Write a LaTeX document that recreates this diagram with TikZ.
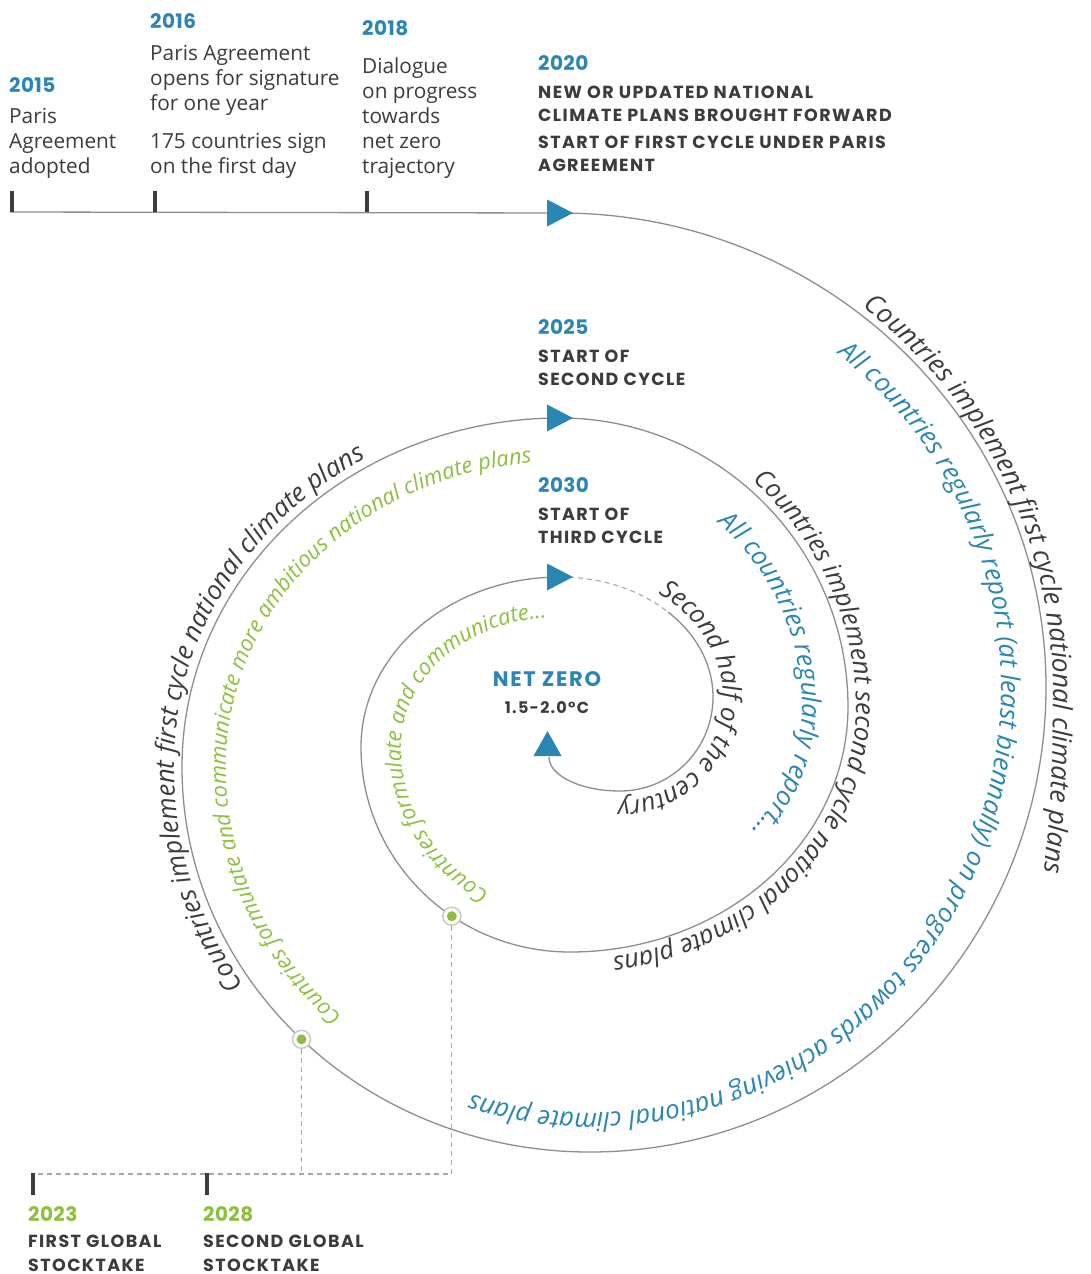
\documentclass[tikz,border=0pt]{standalone}
\usepackage{fontspec}
\setmainfont{Open Sans}
\newfontfamily\hfont{Poppins}[LetterSpace=8]
\newfontfamily\yfont{Poppins}[LetterSpace=2]
\usetikzlibrary{calc,decorations.text}
\definecolor{cblue}{HTML}{2A86B2}
\definecolor{cgreen}{HTML}{8DC03F}
\definecolor{ctext}{HTML}{3C3C3C}
\definecolor{cline}{HTML}{8E8E8E}
\definecolor{cdash}{HTML}{A8A8A8}
\definecolor{cring}{HTML}{CACACA}
\newcommand\myBody{\fontsize{20.8}{25}\selectfont}
\newcommand\myYear{\yfont\bfseries\fontsize{20}{24}\selectfont}
\newcommand\myCaps{\hfont\bfseries\fontsize{17.5}{23.3}\selectfont}
\newcommand\mySpA{\itshape\fontsize{26}{26}\selectfont}
\newcommand\mySpO{\itshape\fontsize{26.5}{26.5}\selectfont}
\newcommand\mySpB{\itshape\fontsize{25.5}{25.5}\selectfont}
\newcommand\mySpG{\itshape\fontsize{22}{22}\selectfont}
\newcommand\mySpH{\itshape\fontsize{22}{22}\selectfont}
\begin{document}
\begin{tikzpicture}[x=1pt,y=-1pt,
  hv/.style={to path={let \p1=(\tikztostart), \p2=(\tikztotarget) in .. controls ({\x1+0.5523*(\x2-\x1)},\y1) and (\x2,{\y2+0.5523*(\y1-\y2)}) .. (\tikztotarget)}},
  vh/.style={to path={let \p1=(\tikztostart), \p2=(\tikztotarget) in .. controls (\x1,{\y1+0.5523*(\y2-\y1)}) and ({\x2+0.5523*(\x1-\x2)},\y2) .. (\tikztotarget)}},
  spiral/.style={draw=cline, line width=1.3pt},
  dashline/.style={draw=cdash, line width=1.2pt, dash pattern=on 5pt off 4pt},
  tickmark/.style={draw=ctext, line width=4pt},
  year/.style={anchor=base west, inner sep=0pt, text=cblue, font=\myYear},
  body/.style={anchor=base west, inner sep=0pt, align=left, text=ctext, font=\myBody},
  caps/.style={anchor=base west, inner sep=0pt, align=left, text=ctext, font=\myCaps},
  dotout/.style={circle, minimum size=18pt, inner sep=0pt, fill=white, draw=cring, line width=1.5pt},
  dotin/.style={circle, minimum size=10pt, inner sep=0pt, fill=cgreen},
  arrowfill/.style={fill=cblue},
]
\fill[white] (0,0) rectangle (1091,1274);
\useasboundingbox (0,0) rectangle (1091,1274);

% main spiral points
\coordinate (S0) at (10,212);
\coordinate (T1) at (560,213);
\coordinate (R1) at (1046,687);
\coordinate (B1) at (590,1152);
\coordinate (L1) at (182,767);
\coordinate (T2) at (560,418);
\coordinate (R2) at (848,707);
\coordinate (B2) at (570,952);
\coordinate (L2) at (361,747);
\coordinate (T3) at (560,577);
\coordinate (M3) at (668.2,612.1);
\coordinate (R3) at (713,697);
\coordinate (B3) at (620,791);
\coordinate (E) at (549,757);

% offset points for texts
\coordinate (T1o) at (560,205);
\coordinate (R1t) at (1053,690);
\coordinate (Z1) at (1040,905);
\coordinate (R1o) at (1054,687);
\coordinate (B1o) at (590,1160);
\coordinate (L1o) at (174,767);
\coordinate (T2o) at (560,410);
\coordinate (R2o) at (856,707);
\coordinate (B2o) at (570,960);
\coordinate (L2o) at (353,747);
\coordinate (T3o) at (560,567);
\coordinate (R3o) at (723,697);
\coordinate (B3o) at (620,801);
\coordinate (Eo) at (539,757);
\coordinate (T1b) at (560,258);
\coordinate (R1b) at (1001,687);
\coordinate (B1b) at (590,1113);
\coordinate (L1b) at (227,767);
\coordinate (B1g) at (590,1108);
\coordinate (L1g) at (226,767);
\coordinate (T2g) at (560,462);
\coordinate (R2g) at (804,707);
\coordinate (T2b) at (560,464);
\coordinate (R2b) at (802,707);
\coordinate (B2b) at (570,906);
\coordinate (B2g) at (570,912);
\coordinate (L2g) at (401,747);
\coordinate (T3g) at (560,617);
\coordinate (R3g) at (673,697);

% spiral line
\draw[spiral] (S0) -- (T1) to[hv] (R1) to[vh] (B1) to[hv] (L1) to[vh] (T2)
  to[hv] (R2) to[vh] (B2) to[hv] (L2) to[vh] (T3);
\draw[dashline, line width=1.1pt] (T3) .. controls (602.25,577) and (640.5,590.4) .. (M3);
\draw[spiral] (M3) .. controls (695.9,633.85) and (713,663.85) .. (R3) to[vh] (B3) to[hv] (E);

% texts along spiral
\path[decorate, decoration={text along path, text align={left indent=325pt}, text color=ctext,
  text={|\mySpO|Countries implement first cycle national climate plans}}]
  (T1o) to[hv] (R1t) .. controls (1053,770) and (1050,830) .. (Z1);
\path[decorate, decoration={text along path, text align={left indent=299pt}, text color=cblue,
  text={|\mySpA|All countries regularly report (at least biennally) on progress towards achieving national climate plans}}]
  (T1b) to[hv] (R1b) to[vh] (B1b) to[hv] (L1b);
\path[decorate, decoration={text along path, text align={left indent=403pt}, text color=ctext,
  text={|\mySpA|Countries implement first cycle national climate plans}}]
  (B1o) to[hv] (L1o) to[vh] (T2o) to[hv] (R2o);
\path[decorate, decoration={text along path, text align={left indent=270pt}, text color=cgreen,
  text={|\mySpG|Countries formulate and communicate more ambitious national climate plans}}]
  (B1g) to[hv] (L1g) to[vh] (T2g) to[hv] (R2g);
\path[decorate, decoration={text along path, text align={left indent=209pt}, text color=ctext,
  text={|\mySpB|Countries implement second cycle national climate plans}}]
  (T2o) to[hv] (R2o) to[vh] (B2o) to[hv] (L2o);
\path[decorate, decoration={text along path, text align={left indent=172pt}, text color=cblue,
  text={|\mySpA|All countries regularly report…}}]
  (T2b) to[hv] (R2b) to[vh] (B2b);
\path[decorate, decoration={text along path, text align={left indent=84pt}, text color=cgreen,
  text={|\mySpH|Countries formulate and communicate…}}]
  (B2g) to[hv] (L2g) to[vh] (T3g) to[hv] (R3g);
\path[decorate, decoration={text along path, text align={left indent=103pt}, text color=ctext,
  text={|\mySpB|Second half of the century}}]
  (T3o) to[hv] (R3o) to[vh] (B3o) to[hv] (Eo);

% arrows
\fill[arrowfill] ([shift={(-13,-13.5)}]T1) -- ([shift={(13,0)}]T1) -- ([shift={(-13,13.5)}]T1) -- cycle;
\fill[arrowfill] ([shift={(-13,-13.5)}]T2) -- ([shift={(13,0)}]T2) -- ([shift={(-13,13.5)}]T2) -- cycle;
\fill[arrowfill] ([shift={(-13,-13.5)}]T3) -- ([shift={(13,0)}]T3) -- ([shift={(-13,13.5)}]T3) -- cycle;
\fill[arrowfill] (533.5,756) -- (547.5,731) -- (561.5,756) -- cycle;

% top ticks
\draw[tickmark] (12,191) -- (12,212);
\draw[tickmark] (155,191) -- (155,212);
\draw[tickmark] (367,191) -- (367,212);

% stocktake connectors
\coordinate (c0) at (33,1174);
\coordinate (c1) at (301.5,1174);
\coordinate (c2) at (451.8,1174);
\node[dotout] (d1) at (301.5,1039.3) {};
\node[dotout] (d2) at (451.8,916.2) {};
\draw[dashline] (d1) -- (c1);
\draw[dashline] (d2) -- (c2) -- (c0);
\node[dotin] (d1i) at (d1) {};
\node[dotin] (d2i) at (d2) {};
\draw[tickmark] (33,1173) -- (33,1195);
\draw[tickmark] (207,1173) -- (207,1195);

% top texts (anchor = baseline of last line)
\node[year] (y15) at (9,92) {2015};
\node[body] (b15) at (9,173) {Paris\\Agreement\\adopted};
\node[year] (y16) at (150,28) {2016};
\node[body] (b16a) at (150,110) {Paris Agreement\\opens for signature\\for one year};
\node[body] (b16b) at (150,173) {175 countries sign\\on the first day};
\node[year] (y18) at (362,35) {2018};
\node[body] (b18) at (362,173) {Dialogue\\on progress\\towards\\net zero\\trajectory};
\node[year] (y20) at (538,70) {2020};
\node[caps] (c20a) at (538,121.3) {NEW OR UPDATED NATIONAL\\CLIMATE PLANS BROUGHT FORWARD};
\node[caps] (c20b) at (538,171.3) {START OF FIRST CYCLE UNDER PARIS\\AGREEMENT};
\node[year] (y25) at (538,334) {2025};
\node[caps] (c25) at (538,385.3) {START OF\\SECOND CYCLE};
\node[year] (y30) at (538,492) {2030};
\node[caps] (c30) at (538,543.3) {START OF\\THIRD CYCLE};
\node[anchor=base, inner sep=0pt, text=cblue, font=\hfont\bfseries\fontsize{21}{24}\selectfont] (nz) at (547,686) {NET ZERO};
\node[anchor=base, inner sep=0pt, text=ctext, font=\hfont\bfseries\fontsize{16}{20}\selectfont] (deg) at (547,713) {1.5-2.0°C};

% bottom texts
\node[year, text=cgreen] (y23) at (28,1221) {2023};
\node[caps] (c23) at (28,1271) {FIRST GLOBAL\\STOCKTAKE};
\node[year, text=cgreen] (y28) at (203,1221) {2028};
\node[caps] (c28) at (203,1271) {SECOND GLOBAL\\STOCKTAKE};
\end{tikzpicture}
\end{document}
